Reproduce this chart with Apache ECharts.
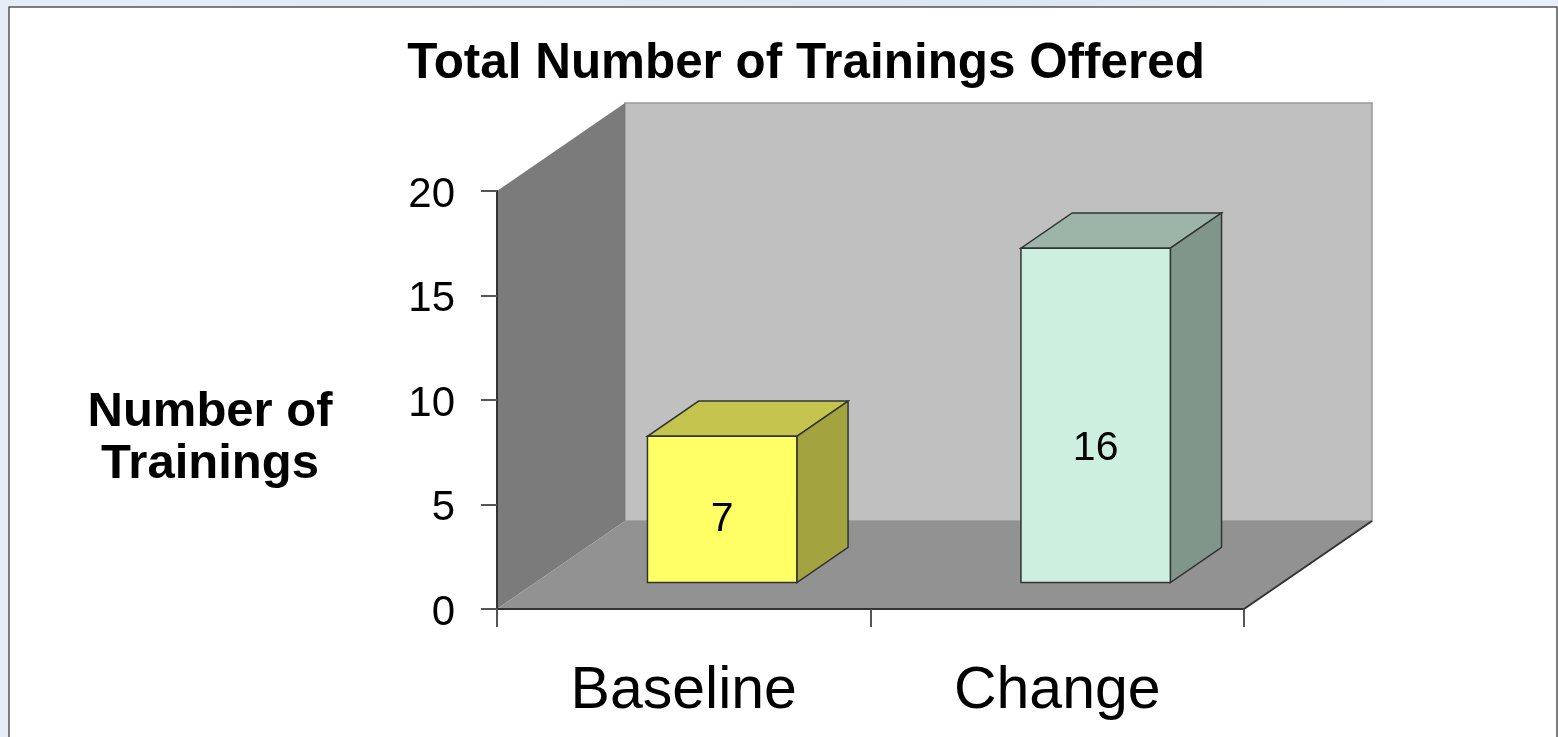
<!DOCTYPE html>
<html>
<head>
<meta charset="utf-8">
<title>Total Number of Trainings Offered</title>
<script src="https://cdn.jsdelivr.net/npm/echarts@6/dist/echarts.min.js"></script>
<style>
    html, body { margin: 0; padding: 0; background: #fff; }
    #chart { width: 1558px; height: 737px; }
</style>
</head>
<body>
<div id="chart"></div>
<script>
var categories = ['Baseline', 'Change'];
var trainings = [7, 16];
var yTicks = [0, 5, 10, 15, 20];

var fronts = ['#ffff66', '#ccefdf'];
var tops = ['#c4c44f', '#9db5a8'];
var sides = ['#a3a33f', '#81968a'];

// how far the box is pushed back, in px
var depthX = 128;
var depthY = 88;
var edge = '#333';
var font = '"Liberation Sans", Arial, sans-serif';

function poly(points, fill, stroke) {
    return {
        type: 'polygon',
        shape: { points: points },
        style: { fill: fill, stroke: stroke || null, lineWidth: stroke ? 1.5 : 0 }
    };
}

function renderBox(params, api) {
    var cs = params.coordSys;
    var l = cs.x, r = cs.x + cs.width, t = cs.y, b = cs.y + cs.height;
    var dx = depthX, dy = depthY;
    return {
        type: 'group',
        children: [
            poly([[l + dx, t - dy], [r + dx, t - dy], [r + dx, b - dy], [l + dx, b - dy]], '#c0c0c0', '#9a9a9a'),
            poly([[l, b], [l, t], [l + dx, t - dy], [l + dx, b - dy]], '#7b7b7b'),
            poly([[l, b], [r, b], [r + dx, b - dy], [l + dx, b - dy]], '#929292'),
            { type: 'line', shape: { x1: r, y1: b, x2: r + dx, y2: b - dy }, style: { stroke: edge, lineWidth: 2 } }
        ]
    };
}

function renderBar(params, api) {
    var i = api.value(0);
    var base = api.coord([i, 0]);
    var head = api.coord([i, api.value(1)]);
    var w = api.size([1, 0])[0] * 0.4;
    var h = base[1] - head[1];
    // bar sits between 30% and 70% of the floor depth
    var x0 = base[0] - w / 2 + depthX * 0.3;
    var x1 = x0 + w;
    var y0 = base[1] - depthY * 0.3;
    var y1 = y0 - h;
    var sx = depthX * 0.4;
    var sy = depthY * 0.4;
    return {
        type: 'group',
        children: [
            poly([[x0, y1], [x1, y1], [x1 + sx, y1 - sy], [x0 + sx, y1 - sy]], tops[i], edge),
            poly([[x1, y0], [x1, y1], [x1 + sx, y1 - sy], [x1 + sx, y0 - sy]], sides[i], edge),
            poly([[x0, y0], [x1, y0], [x1, y1], [x0, y1]], fronts[i], edge),
            {
                type: 'text',
                style: {
                    x: (x0 + x1) / 2,
                    y: y0 - 8 - h * 0.378,
                    text: String(api.value(1)),
                    font: '41px ' + font,
                    fill: '#000',
                    align: 'center',
                    verticalAlign: 'middle'
                }
            }
        ]
    };
}

var chart = echarts.init(document.getElementById('chart'));

var option = {
    animation: false,
    backgroundColor: {
        type: 'linear', x: 0, y: 0, x2: 1, y2: 0,
        colorStops: [
            { offset: 0, color: '#e6edf6' },
            { offset: 0.65, color: '#dbe7f3' },
            { offset: 1, color: '#eaf0f9' }
        ]
    },
    graphic: {
        z: -10,
        elements: [
            {
                type: 'rect',
                shape: { x: 9, y: 7, width: 1548, height: 740 },
                style: { fill: '#fff', stroke: '#555', lineWidth: 1.5 }
            },
            {
                type: 'text',
                style: {
                    x: 210,
                    y: 438,
                    text: 'Number of\nTrainings',
                    font: 'bold 49px ' + font,
                    lineHeight: 52,
                    fill: '#000',
                    align: 'center',
                    verticalAlign: 'middle'
                }
            }
        ]
    },
    title: {
        text: 'Total Number of Trainings Offered',
        left: 801,
        top: 35,
        textAlign: 'center',
        textStyle: { fontFamily: font, fontSize: 49.4, fontWeight: 'bold', color: '#000' }
    },
    grid: { left: 497, right: 314, top: 191, bottom: 128 },
    xAxis: {
        type: 'category',
        data: categories,
        z: 5,
        axisLine: { lineStyle: { color: '#333', width: 2 } },
        axisTick: { show: true, length: 18, alignWithLabel: false, lineStyle: { color: '#555', width: 2 } },
        axisLabel: { fontFamily: font, fontSize: 59, color: '#000', margin: 53 }
    },
    yAxis: {
        type: 'value',
        min: yTicks[0],
        max: yTicks[yTicks.length - 1],
        interval: 5,
        z: 5,
        splitLine: { show: false },
        axisLine: { show: true, lineStyle: { color: '#333', width: 2 } },
        axisTick: { show: true, length: 16, lineStyle: { color: '#555', width: 2 } },
        axisLabel: {
            margin: 42,
            formatter: '{v|{value}}',
            rich: { v: { fontFamily: font, fontSize: 42, color: '#000', padding: [8, 0, 0, 0] } }
        }
    },
    series: [
        { type: 'custom', z: 1, silent: true, data: [0], renderItem: renderBox, encode: { x: 0 } },
        {
            type: 'custom',
            z: 3,
            data: trainings.map(function (v, i) { return [i, v]; }),
            renderItem: renderBar,
            encode: { x: 0, y: 1 }
        }
    ]
};

chart.setOption(option);
</script>
</body>
</html>
